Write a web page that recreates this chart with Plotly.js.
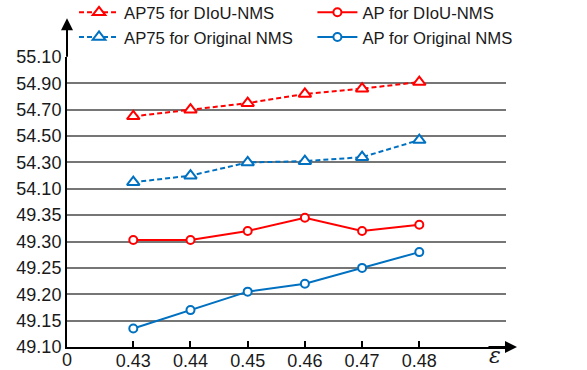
<!DOCTYPE html>
<html>
<head>
<meta charset="utf-8">
<script src="https://cdn.plot.ly/plotly-3.0.1.min.js"></script>
<style>html,body{margin:0;padding:0;background:#fff;}#chart{width:587px;height:370px;}</style>
</head>
<body>
<div id="chart"></div>
<script>
const epsilon = [0.43, 0.44, 0.45, 0.46, 0.47, 0.48];
const ap75DIoU = [54.65, 54.70, 54.75, 54.82, 54.86, 54.91];
const ap75Orig = [54.15, 54.20, 54.30, 54.31, 54.34, 54.47];
const apDIoU = [49.303, 49.303, 49.32, 49.345, 49.32, 49.332];
const apOrig = [49.135, 49.17, 49.205, 49.22, 49.25, 49.28];
const lowerTicks = [49.10, 49.15, 49.20, 49.25, 49.30, 49.35];
const upperTicks = [54.10, 54.30, 54.50, 54.70, 54.90, 55.10];

const RED = '#FF0000', BLUE = '#0070C0';

const traces = [
  {x: epsilon, y: ap75DIoU, yaxis: 'y2', name: 'AP75 for DIoU-NMS', mode: 'lines+markers',
   legend: 'legend', legendgroup: 'a',
   line: {color: RED, width: 2, dash: '5px,3px'},
   marker: {symbol: 'triangle-up', size: 11, color: 'white', line: {color: RED, width: 2}}},
  {x: epsilon, y: ap75Orig, yaxis: 'y2', name: 'AP75 for Original NMS', mode: 'lines+markers',
   legend: 'legend', legendgroup: 'b',
   line: {color: BLUE, width: 2, dash: '5px,3px'},
   marker: {symbol: 'triangle-up', size: 11, color: 'white', line: {color: BLUE, width: 2}}},
  {x: epsilon, y: apDIoU, yaxis: 'y', name: 'AP for DIoU-NMS', mode: 'lines+markers',
   legend: 'legend2', legendgroup: 'c',
   line: {color: RED, width: 2},
   marker: {symbol: 'circle', size: 8, color: 'white', line: {color: RED, width: 2}}},
  {x: epsilon, y: apOrig, yaxis: 'y', name: 'AP for Original NMS', mode: 'lines+markers',
   legend: 'legend2', legendgroup: 'd',
   line: {color: BLUE, width: 2},
   marker: {symbol: 'circle', size: 8, color: 'white', line: {color: BLUE, width: 2}}}
];

const tickFont = {family: 'Liberation Sans, Arial, sans-serif', size: 18, color: '#1a1a1a'};
const legendFont = {family: 'Liberation Sans, Arial, sans-serif', size: 16.7, color: '#1a1a1a'};

const layout = {
  width: 587, height: 370,
  margin: {l: 67, r: 81, t: 57, b: 23, pad: 0, autoexpand: false},
  paper_bgcolor: 'white', plot_bgcolor: 'white',
  showlegend: true,
  legend: {orientation: 'v', x: 0.016, xanchor: 'left', y: 1.214, yanchor: 'top',
    font: legendFont, itemwidth: 40, tracegroupgap: 2, bgcolor: 'rgba(0,0,0,0)', traceorder: 'normal'},
  legend2: {orientation: 'v', x: 0.559, xanchor: 'left', y: 1.214, yanchor: 'top',
    font: legendFont, itemwidth: 40, tracegroupgap: 2, bgcolor: 'rgba(0,0,0,0)', traceorder: 'normal'},
  xaxis: {range: [0.41841, 0.49516], anchor: 'y', tickvals: epsilon, ticktext: epsilon.map(v => v.toFixed(2)),
    ticks: 'inside', ticklen: 6, tickwidth: 2, tickcolor: 'black', ticklabelstandoff: -4,
    showline: true, linecolor: 'black', linewidth: 2, showgrid: false, zeroline: false,
    tickfont: tickFont, fixedrange: true, automargin: false},
  yaxis: {domain: [0, 0.5], range: [49.10, 49.375], tickvals: lowerTicks, ticktext: lowerTicks.map(v => v.toFixed(2)),
    showline: true, linecolor: 'black', linewidth: 2, showgrid: true, gridcolor: '#767676', gridwidth: 2,
    zeroline: false, ticks: '', tickfont: tickFont, anchor: 'x', automargin: false},
  yaxis2: {domain: [0.5, 1], range: [54.0, 55.10], tickvals: upperTicks, ticktext: upperTicks.map(v => v.toFixed(2)),
    showline: true, linecolor: 'black', linewidth: 2, showgrid: true, gridcolor: '#767676', gridwidth: 2,
    zeroline: false, ticks: '', tickfont: tickFont, anchor: 'x', automargin: false},
  annotations: [
    {xref: 'paper', yref: 'paper', x: 0, y: 1.134, ax: 0, ay: 40, axref: 'pixel', ayref: 'pixel',
     text: '', showarrow: true, arrowhead: 2, arrowsize: 1.2, arrowwidth: 2, arrowcolor: 'black'},
    {xref: 'paper', yref: 'paper', x: 1.025, y: 0, ax: -30, ay: 0,
     text: '', showarrow: true, arrowhead: 2, arrowsize: 1.2, arrowwidth: 2, arrowcolor: 'black'},
    {xref: 'paper', yref: 'paper', x: 0, y: 0, yshift: -1, xanchor: 'center', yanchor: 'top',
     text: '0', showarrow: false, font: tickFont},
    {xref: 'paper', yref: 'paper', x: 0.975, y: 0, yshift: -8, xanchor: 'center', yanchor: 'middle',
     text: '<i>ε</i>', showarrow: false, borderpad: 0, font: {family: 'DejaVu Serif, serif', size: 22, color: '#1a1a1a'}}
  ]
};

Plotly.newPlot('chart', traces, layout, {displayModeBar: false, staticPlot: true});
</script>
</body>
</html>
